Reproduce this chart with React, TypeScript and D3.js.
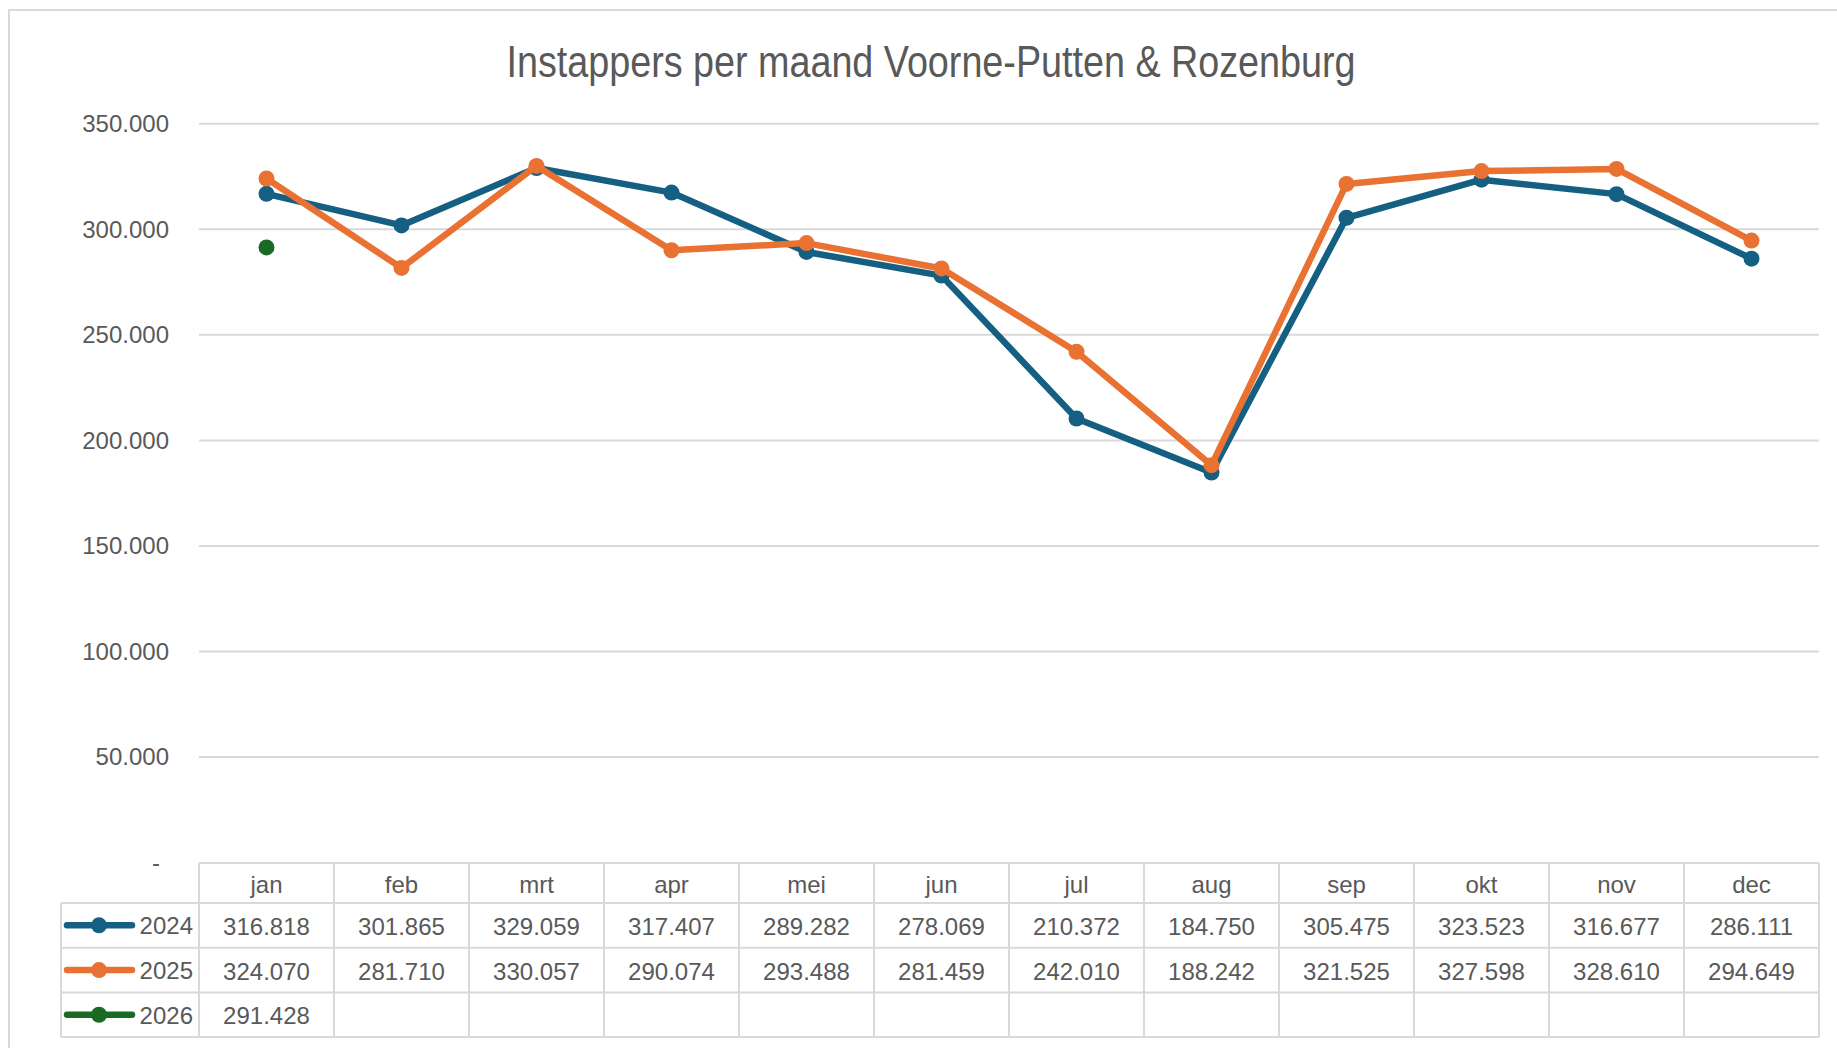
import React from "react";
import * as d3 from "d3";

const months = ["jan", "feb", "mrt", "apr", "mei", "jun", "jul", "aug", "sep", "okt", "nov", "dec"];
const years = ["2024", "2025", "2026"];
const values2024 = [316818, 301865, 329059, 317407, 289282, 278069, 210372, 184750, 305475, 323523, 316677, 286111];
const values2025 = [324070, 281710, 330057, 290074, 293488, 281459, 242010, 188242, 321525, 327598, 328610, 294649];
const values2026 = [291428];
const yTicks = [0, 50000, 100000, 150000, 200000, 250000, 300000, 350000];
const seriesColors = ["#156082", "#E97132", "#196B24"];
const title = "Instappers per maand Voorne-Putten & Rozenburg";

const W = 1837;
const H = 1048;
const plotLeft = 199;
const plotRight = 1819;
const yZero = 862.5;
const yTop = 123.8;
const legendLeft = 61;
const headerTop = 863;
const headerBottom = 903;
const rowH = 44.7;

const fmt = (v: number) =>
  v === 0 ? "-" : d3.format(",")(v).replace(/,/g, ".");
const fmtVal = (v: number) => d3.format(",")(v).replace(/,/g, ".");

export default function App() {
  const x = d3.scaleBand<string>().domain(months).range([plotLeft, plotRight]);
  const y = d3.scaleLinear().domain([0, 350000]).range([yZero, yTop]);
  const series = [values2024, values2025, values2026];
  const line = d3
    .line<number>()
    .x((_, i) => (x(months[i]) as number) + x.bandwidth() / 2)
    .y((d) => y(d));
  const textColor = "#595959";
  const grid = "#d9d9d9";
  const fsAxis = 24;
  const fsTable = 24;
  const font = "'Liberation Sans', Arial, sans-serif";

  return (
    <svg
      width={W}
      height={H}
      style={{ position: "absolute", left: 0, top: 0, display: "block", background: "#fff" }}
    >
      <rect x={9} y={10} width={W + 10} height={H + 10} fill="#fff" stroke={grid} strokeWidth={2} />
      <text
        x={931}
        y={77}
        textAnchor="middle"
        fill={textColor}
        fontFamily={font}
        fontSize={44}
        textLength={849}
        lengthAdjust="spacingAndGlyphs"
      >
        {title}
      </text>
      {yTicks.map((t) => (
        <g key={t}>
          {t > 0 && (
            <line x1={plotLeft} x2={plotRight} y1={y(t)} y2={y(t)} stroke={grid} strokeWidth={2} />
          )}
          <text
            x={t === 0 ? 160 : 169}
            y={y(t) + 8.5}
            textAnchor="end"
            fill={textColor}
            fontFamily={font}
            fontSize={fsAxis}
          >
            {fmt(t)}
          </text>
        </g>
      ))}
      {series.map((vals, si) => (
        <g key={si}>
          {vals.length > 1 && (
            <path d={line(vals) || ""} fill="none" stroke={seriesColors[si]} strokeWidth={6.5} strokeLinejoin="round" />
          )}
          {vals.map((v, i) => (
            <circle
              key={i}
              cx={(x(months[i]) as number) + x.bandwidth() / 2}
              cy={y(v)}
              r={8}
              fill={seriesColors[si]}
            />
          ))}
        </g>
      ))}
      <g>
        <line x1={plotLeft} x2={plotRight} y1={headerTop} y2={headerTop} stroke={grid} strokeWidth={2} />
        <line x1={legendLeft} x2={plotRight} y1={headerBottom} y2={headerBottom} stroke={grid} strokeWidth={2} />
        {years.map((_, r) => (
          <line
            key={r}
            x1={legendLeft}
            x2={plotRight}
            y1={headerBottom + (r + 1) * rowH}
            y2={headerBottom + (r + 1) * rowH}
            stroke={grid}
            strokeWidth={2}
          />
        ))}
        <line x1={legendLeft} x2={legendLeft} y1={headerBottom} y2={headerBottom + 3 * rowH} stroke={grid} strokeWidth={2} />
        {months.map((m) => (
          <line
            key={m}
            x1={x(m) as number}
            x2={x(m) as number}
            y1={headerTop}
            y2={headerBottom + 3 * rowH}
            stroke={grid}
            strokeWidth={2}
          />
        ))}
        <line x1={plotRight} x2={plotRight} y1={headerTop} y2={headerBottom + 3 * rowH} stroke={grid} strokeWidth={2} />
        {months.map((m) => (
          <text
            key={m}
            x={(x(m) as number) + x.bandwidth() / 2}
            y={(headerTop + headerBottom) / 2 + 10}
            textAnchor="middle"
            fill={textColor}
            fontFamily={font}
            fontSize={fsTable}
          >
            {m}
          </text>
        ))}
        {series.map((vals, si) => {
          const cy = headerBottom + si * rowH + rowH / 2;
          return (
            <g key={si}>
              <line x1={67} x2={132} y1={cy} y2={cy} stroke={seriesColors[si]} strokeWidth={6.5} strokeLinecap="round" />
              <circle cx={99} cy={cy} r={8} fill={seriesColors[si]} />
              <text x={193} y={cy + 9} textAnchor="end" fill={textColor} fontFamily={font} fontSize={fsTable}>
                {years[si]}
              </text>
              {vals.map((v, i) => (
                <text
                  key={i}
                  x={(x(months[i]) as number) + x.bandwidth() / 2}
                  y={cy + 9.5}
                  textAnchor="middle"
                  fill={textColor}
                  fontFamily={font}
                  fontSize={fsTable}
                >
                  {fmtVal(v)}
                </text>
              ))}
            </g>
          );
        })}
      </g>
    </svg>
  );
}
